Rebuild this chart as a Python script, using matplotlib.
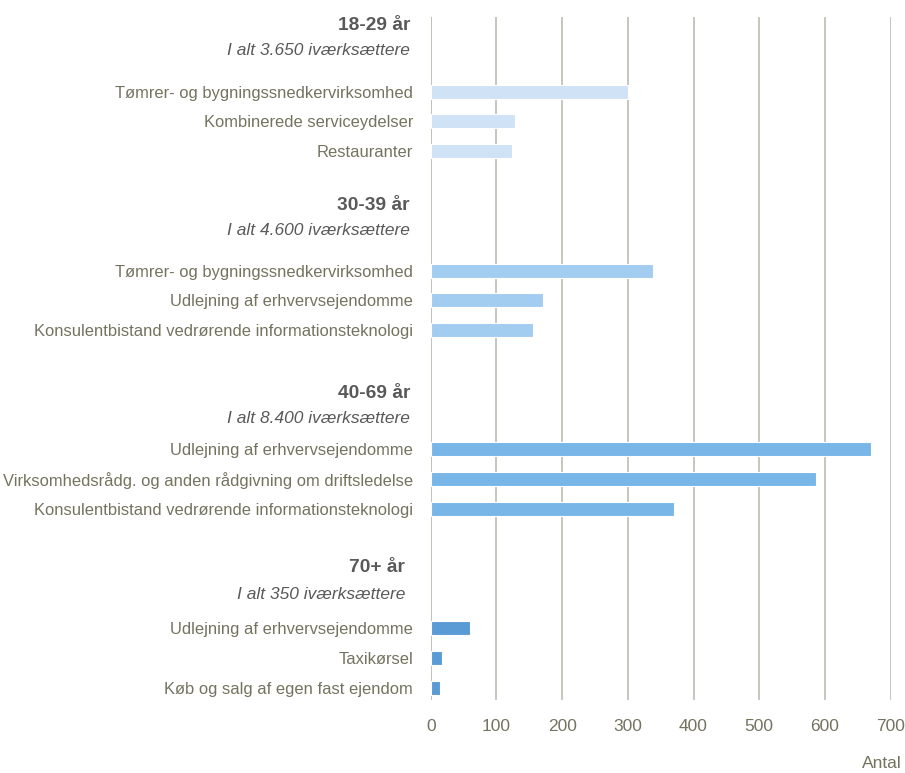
import numpy as np
import matplotlib.pyplot as plt

plt.rcParams['font.family'] = ['Liberation Sans', 'DejaVu Sans']

# data
groups = ['18-29 år', '30-39 år', '40-69 år', '70+ år']
totals = ['I alt 3.650 iværksættere', 'I alt 4.600 iværksættere',
          'I alt 8.400 iværksættere', 'I alt 350 iværksættere']
labels = [
    ['Tømrer- og bygningssnedkervirksomhed', 'Kombinerede serviceydelser', 'Restauranter'],
    ['Tømrer- og bygningssnedkervirksomhed', 'Udlejning af erhvervsejendomme',
     'Konsulentbistand vedrørende informationsteknologi'],
    ['Udlejning af erhvervsejendomme', 'Virksomhedsrådg. og anden rådgivning om driftsledelse',
     'Konsulentbistand vedrørende informationsteknologi'],
    ['Udlejning af erhvervsejendomme', 'Taxikørsel', 'Køb og salg af egen fast ejendom'],
]
values = [
    [300, 128, 123],
    [338, 171, 156],
    [670, 586, 370],
    [60, 17, 14],
]
xticks = [0, 100, 200, 300, 400, 500, 600, 700]

# style / layout
colors = ['#D0E2F5', '#A2CCF0', '#78B6E7', '#5B9BD5']
head_off = [-2.2, -2.18, -1.88, -2.04]
sub_off = [-1.37, -1.34, -1.04, -1.14]
head_x = [-14.9, -14.9, -14.9, -18.5]
txt = '#74735F'
dark = '#595959'
gridc = '#C2C2B6'

fig = plt.figure(figsize=(9.05, 7.73), dpi=100)
ax = fig.add_axes([0.4759, 0.0944, 0.9842 - 0.4759, 0.978 - 0.0944])

ypos, ylabs = [], []
for g in range(4):
    base = 6 * g
    y = base + np.arange(3)
    ax.barh(y, values[g], height=0.47, color=colors[g], edgecolor='white', linewidth=0.8, zorder=3)
    ypos += list(y)
    ylabs += labels[g]
    ax.annotate(groups[g], xy=(0, base + head_off[g]), xycoords=('axes fraction', 'data'),
                xytext=(head_x[g], 0), textcoords='offset points', ha='right', va='center',
                fontsize=13.8, fontweight='bold', color=dark)
    ax.annotate(totals[g], xy=(0, base + sub_off[g]), xycoords=('axes fraction', 'data'),
                xytext=(head_x[g], 0), textcoords='offset points', ha='right', va='center',
                fontsize=12.5, fontstyle='italic', color=dark)

ax.set_yticks(ypos)
ax.set_yticklabels(ylabs, fontsize=11.9, color=txt)
ax.set_ylim(20.4, -2.5)
ax.set_xlim(0, 700)
ax.set_xticks(xticks)
ax.set_xticklabels([str(t) for t in xticks], fontsize=12.5, color=txt)
ax.tick_params(axis='y', length=0, pad=12.7)
ax.tick_params(axis='x', length=0, pad=13.5)
ax.xaxis.grid(True, color=gridc, linewidth=1.3, zorder=0)
ax.set_axisbelow(True)
for s in ax.spines.values():
    s.set_visible(False)
ax.axvline(0, color=gridc, linewidth=1.3, zorder=1)

fig.text(0.996, 0.003, 'Antal', ha='right', va='bottom', fontsize=12.5, color=txt)

plt.savefig('out.png', dpi=100)
